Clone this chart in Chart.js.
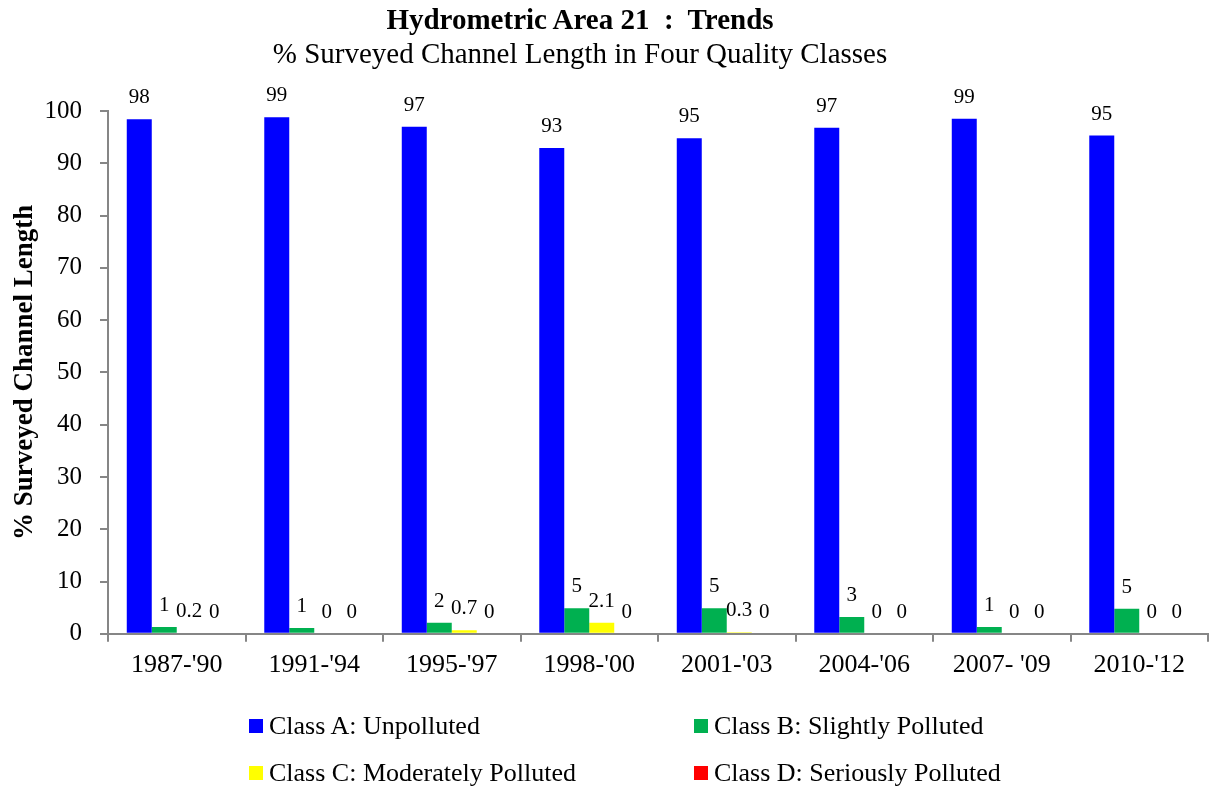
<!DOCTYPE html>
<html>
<head>
<meta charset="utf-8">
<script src="https://cdn.jsdelivr.net/npm/chart.js@4.4.1/dist/chart.umd.min.js"></script>
<style>
  html, body { margin: 0; padding: 0; background: #fff; }
  #wrap { position: relative; width: 1210px; height: 790px; overflow: hidden; }
  #chart { position: absolute; left: 0; top: 0; }
  #head { position: absolute; left: 0; top: 2px; width: 1160px; text-align: center;
          font-family: "Liberation Serif", "Times New Roman", serif; font-size: 29px; line-height: 34px; color: #000; }
  #head .t1 { font-weight: bold; white-space: pre; }
  #legend { position: absolute; left: 249px; top: 702px; display: grid;
            grid-template-columns: 445px 445px; grid-auto-rows: 47px;
            font-family: "Liberation Serif", "Times New Roman", serif; font-size: 26px; color: #000; }
  #legend .item { display: flex; align-items: center; white-space: nowrap; }
  #legend .box { width: 14px; height: 14px; margin-right: 6px; }
</style>
</head>
<body>
<div id="wrap">
  <canvas id="chart" width="1210" height="790"></canvas>
  <div id="head">
    <div class="t1">Hydrometric Area 21  :  Trends</div>
    <div>% Surveyed Channel Length in Four Quality Classes</div>
  </div>
  <div id="legend"></div>
</div>
<script>
// data
var periods = ["1987-'90", "1991-'94", "1995-'97", "1998-'00", "2001-'03", "2004-'06", "2007- '09", "2010-'12"];
var classA = [98.4, 98.8, 97.0, 92.9, 94.8, 96.8, 98.5, 95.3];
var classB = [1.3, 1.1, 2.1, 4.9, 4.9, 3.2, 1.3, 4.8];
var classC = [0.2, 0, 0.7, 2.1, 0.3, 0, 0, 0];
var classD = [0, 0, 0, 0, 0, 0, 0, 0];
var seriesNames = ['Class A: Unpolluted', 'Class B: Slightly Polluted', 'Class C: Moderately Polluted', 'Class D: Seriously Polluted'];
var seriesColors = ['#0000FF', '#00B050', '#FFFF00', '#FF0000'];
var labelDecimals = [0, 0, 1, 0];

var serif = '"Liberation Serif", "Times New Roman", serif';
var axisGrey = '#868686';

// value labels above each bar
var barLabels = {
  id: 'barLabels',
  afterDatasetsDraw: function(chart) {
    var ctx = chart.ctx;
    ctx.save();
    ctx.font = '21px ' + serif;
    ctx.fillStyle = '#000';
    ctx.textAlign = 'center';
    ctx.textBaseline = 'alphabetic';
    chart.data.datasets.forEach(function(ds, i) {
      var meta = chart.getDatasetMeta(i);
      meta.data.forEach(function(bar, j) {
        var v = ds.data[j];
        var txt = v === 0 ? '0' : v.toFixed(labelDecimals[i]);
        ctx.fillText(txt, bar.x, bar.y - 16);
      });
    });
    ctx.restore();
  }
};

var allSeries = [classA, classB, classC, classD];
var datasets = allSeries.map(function(d, i) {
  return {
    label: seriesNames[i],
    data: d,
    backgroundColor: seriesColors[i],
    borderWidth: 0,
    categoryPercentage: 0.727,
    barPercentage: 1.0
  };
});

var chart = new Chart(document.getElementById('chart'), {
  type: 'bar',
  data: { labels: periods, datasets: datasets },
  options: {
    responsive: false,
    animation: false,
    devicePixelRatio: 1,
    layout: { padding: { top: 111, bottom: 101, left: 0, right: 2 } },
    plugins: {
      legend: { display: false },
      title: { display: false },
      tooltip: { enabled: false }
    },
    scales: {
      x: {
        grid: { offset: true, drawOnChartArea: false, drawTicks: true, tickLength: 8, color: axisGrey, lineWidth: 2 },
        border: { color: axisGrey, width: 2 },
        ticks: { color: '#000', font: { family: serif, size: 26 }, padding: 8, maxRotation: 0, autoSkip: false }
      },
      y: {
        min: 0,
        max: 100,
        ticks: { stepSize: 10, color: '#000', font: { family: serif, size: 25 }, padding: 18 },
        grid: { drawOnChartArea: false, drawTicks: true, tickLength: 8, color: axisGrey, lineWidth: 2 },
        border: { color: axisGrey, width: 2 },
        title: { display: true, text: '% Surveyed Channel Length', color: '#000',
                 font: { family: serif, size: 27, weight: 'bold' }, padding: { top: 9, bottom: 0 } },
        afterFit: function(scale) { scale.width = 108; }
      }
    }
  },
  plugins: [barLabels]
});

// legend in two columns
var legend = document.getElementById('legend');
chart.data.datasets.forEach(function(ds) {
  var item = document.createElement('div');
  item.className = 'item';
  var box = document.createElement('span');
  box.className = 'box';
  box.style.background = ds.backgroundColor;
  item.appendChild(box);
  item.appendChild(document.createTextNode(ds.label));
  legend.appendChild(item);
});
</script>
</body>
</html>
